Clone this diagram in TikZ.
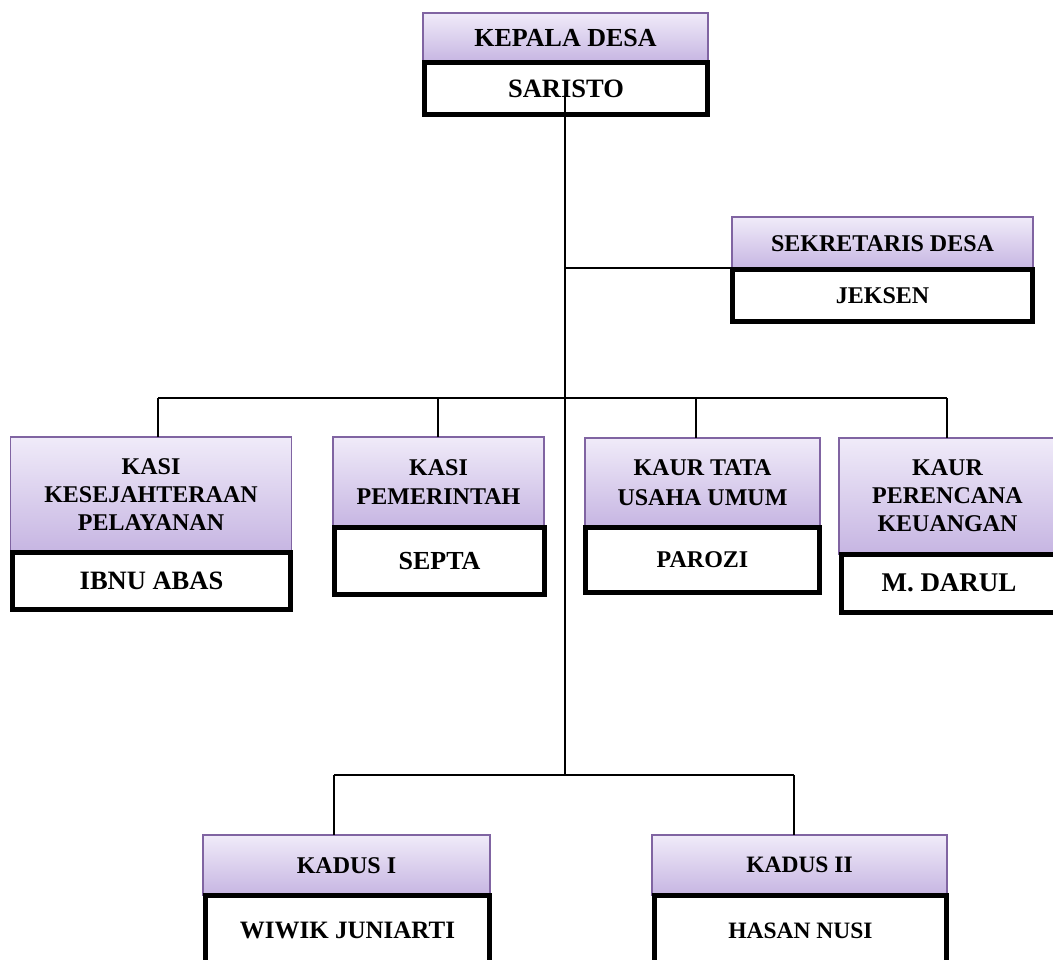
\documentclass[tikz,border=0pt]{standalone}
\usepackage{fontspec}
\setmainfont{Liberation Serif}
\definecolor{ptop}{RGB}{240,235,249}
\definecolor{pbot}{RGB}{198,181,226}
\definecolor{pedge}{RGB}{128,100,162}
\newcommand\fsz[2]{\fontsize{#1}{#2}\selectfont\bfseries}
\tikzset{
  titlebox/.style={draw=pedge, line width=1.3pt, top color=ptop, bottom color=pbot,
    inner sep=0pt, outer sep=0pt, anchor=north west, align=center},
  namebox/.style={draw=black, line width=5pt, fill=white,
    inner sep=0pt, outer sep=0pt, anchor=north west, align=center},
  conn/.style={draw=black, line width=1.7pt},
}
\begin{document}
\begin{tikzpicture}[x=1pt,y=-1pt]
\useasboundingbox (0,0) rectangle (1053,960);
\clip (0,0) rectangle (1053,960);

% connector coordinates
\coordinate (j0) at (565,97);
\coordinate (j1) at (565,268);
\coordinate (j2) at (565,398);
\coordinate (j3) at (565,775);
\coordinate (h1) at (158,398);
\coordinate (h2) at (438,398);
\coordinate (h3) at (696,398);
\coordinate (h4) at (947,398);
\coordinate (k1) at (334,775);
\coordinate (k2) at (794,775);

% Kepala Desa
\node[titlebox, minimum width=285pt, minimum height=49.5pt, font=\fsz{26}{30}] (kt) at (423,13) {KEPALA DESA};
% Sekretaris
\node[titlebox, minimum width=301pt, minimum height=52.5pt, font=\fsz{24}{28}] (st) at (732,217) {SEKRETARIS DESA};
% middle row
\node[titlebox, minimum width=281pt, minimum height=115.5pt, font=\fsz{24}{28}] (p1t) at (10.5,437) {KASI\\KESEJAHTERAAN\\PELAYANAN};
\node[titlebox, minimum width=211pt, minimum height=90.5pt, font=\fsz{24}{29}] (p2t) at (333,437) {KASI\\PEMERINTAH};
\node[titlebox, minimum width=235pt, minimum height=89.5pt, font=\fsz{24}{30}] (p3t) at (585,438) {KAUR TATA\\USAHA UMUM};
\node[titlebox, minimum width=225pt, minimum height=116pt, font=\fsz{24}{28}] (p4t) at (839,438) {\hspace*{-8pt}KAUR\\\hspace*{-8pt}PERENCANA\\\hspace*{-8pt}KEUANGAN};
% Kadus
\node[titlebox, minimum width=287pt, minimum height=60.5pt, font=\fsz{24}{28}] (d1t) at (203,835) {KADUS I};
\node[titlebox, minimum width=295pt, minimum height=60.5pt, font=\fsz{23.5}{28}] (d2t) at (652,835) {KADUS II};

% connectors
\draw[conn] (j1) -- (j1 -| st.west);
\draw[conn] (h1) -- (h4);
\draw[conn] (h1) -- (h1 |- p1t.north);
\draw[conn] (h2) -- (h2 |- p2t.north);
\draw[conn] (h3) -- (h3 |- p3t.north);
\draw[conn] (h4) -- (h4 |- p4t.north);
\draw[conn] (k1) -- (k2);
\draw[conn] (k1) -- (k1 |- d1t.north);
\draw[conn] (k2) -- (k2 |- d2t.north);

% name boxes
\node[namebox, minimum width=283pt, minimum height=52pt, font=\fsz{26.5}{30}] (kn) at (424.5,62.5) {SARISTO};
\node[namebox, minimum width=300pt, minimum height=52pt, font=\fsz{24}{28}] (sn) at (732.5,269.5) {JEKSEN};
\node[namebox, minimum width=278pt, minimum height=57pt, font=\fsz{26.5}{30}] (p1n) at (12.5,552.5) {IBNU ABAS};
\node[namebox, minimum width=210pt, minimum height=67pt, font=\fsz{26}{30}] (p2n) at (334.5,527.5) {SEPTA};
\node[namebox, minimum width=234pt, minimum height=65pt, font=\fsz{24}{28}] (p3n) at (585.5,527.5) {PAROZI};
\node[namebox, minimum width=225pt, minimum height=58.5pt, font=\fsz{27}{30}] (p4n) at (841.5,554) {\hspace*{-10pt}M. DARUL};
\node[namebox, minimum width=284pt, minimum height=70pt, font=\fsz{25}{28}] (d1n) at (205.5,895.5) {WIWIK JUNIARTI};
\node[namebox, minimum width=292pt, minimum height=70pt, font=\fsz{23.5}{28}] (d2n) at (654.5,895.5) {HASAN NUSI};

% main vertical line (starts inside the SARISTO box)
\draw[conn] (j0) -- (j3);
\end{tikzpicture}
\end{document}
